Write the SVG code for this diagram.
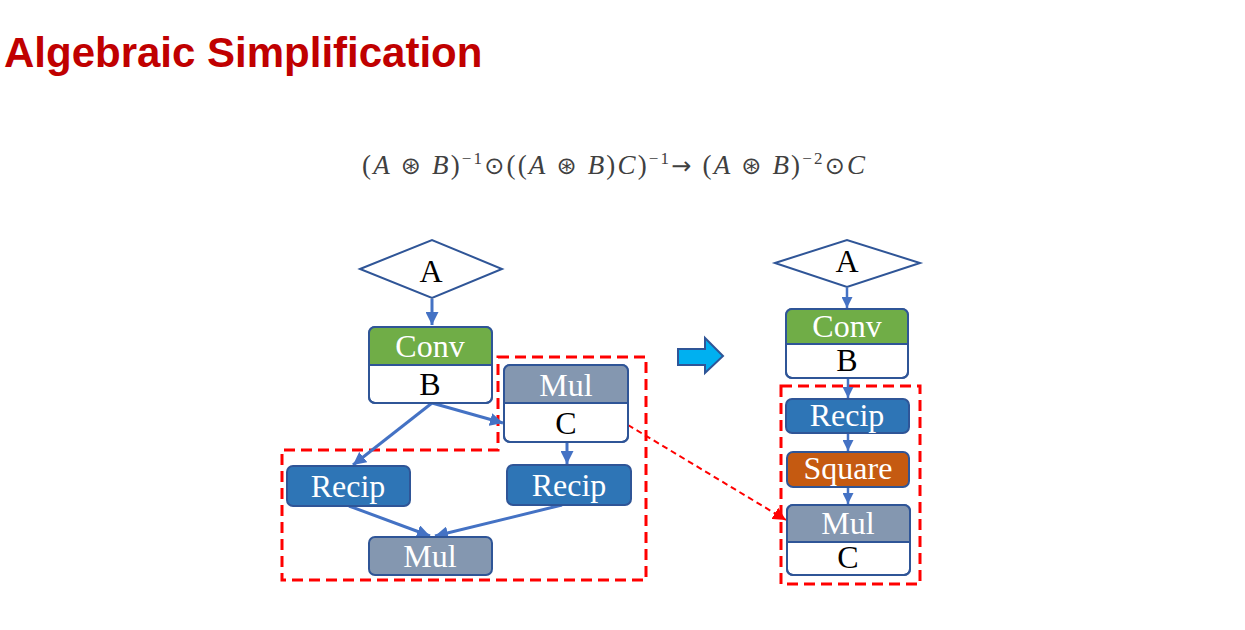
<svg xmlns="http://www.w3.org/2000/svg" width="1245" height="630" viewBox="0 0 1245 630">
<style>
.title{font-family:"Liberation Sans",Arial,sans-serif;font-weight:bold;font-size:42px;fill:#C00000}
.eq{font-family:"Liberation Serif","DejaVu Serif",serif;font-size:27px;fill:#404040}
.it{font-style:italic}
.op{font-family:"DejaVu Sans",sans-serif;font-size:24px}
.lbl{font-family:"Liberation Serif","Times New Roman",serif;font-size:32px;text-anchor:middle}
.w{fill:#fff}
.k{fill:#000}
.box{fill:none;stroke:#2F5597;stroke-width:2}
.bw{fill:#fff;stroke:#2F5597;stroke-width:2}
.edge{stroke:#4472C4;stroke-width:3;fill:none}
.edge2{stroke:#4472C4;stroke-width:2.5;fill:none}
.grp{fill:none;stroke:#FF0000;stroke-width:3;stroke-dasharray:11 6}
</style>
<defs>
<marker id="ah" viewBox="0 0 10 10" refX="10" refY="5" markerUnits="userSpaceOnUse" markerWidth="13" markerHeight="13" orient="auto">
<path d="M0,0 L10,5 L0,10 Z" fill="#4472C4"/>
</marker>
<marker id="ah2" viewBox="0 0 10 10" refX="10" refY="5" markerUnits="userSpaceOnUse" markerWidth="11" markerHeight="11" orient="auto">
<path d="M0,0 L10,5 L0,10 Z" fill="#4472C4"/>
</marker>
<marker id="ahr" viewBox="0 0 10 10" refX="10" refY="5" markerUnits="userSpaceOnUse" markerWidth="13" markerHeight="13" orient="auto">
<path d="M0,0 L10,5 L0,10 Z" fill="#FF0000"/>
</marker>
</defs>

<text class="title" x="4" y="67">Algebraic Simplification</text>

<text class="eq" x="362" y="174" textLength="503" lengthAdjust="spacing">(<tspan class="it">A</tspan> <tspan class="op">⊛</tspan> <tspan class="it">B</tspan>)<tspan dy="-10" font-size="17">−1</tspan><tspan dy="10" class="op">⊙</tspan>((<tspan class="it">A</tspan> <tspan class="op">⊛</tspan> <tspan class="it">B</tspan>)<tspan class="it">C</tspan>)<tspan dy="-10" font-size="17">−1</tspan><tspan dy="10" class="op">→</tspan> (<tspan class="it">A</tspan> <tspan class="op">⊛</tspan> <tspan class="it">B</tspan>)<tspan dy="-10" font-size="17">−2</tspan><tspan dy="10" class="op">⊙</tspan><tspan class="it">C</tspan></text>

<!-- group outlines -->
<g id="groups">
<polygon class="grp" points="498,357 646,357 646,580 282,580 282,450 498,450"/>
<rect class="grp" x="781" y="386" width="139" height="198"/>
</g>

<!-- connectors -->
<g id="connectors">
<line class="edge" x1="432" y1="299" x2="432" y2="325" marker-end="url(#ah)"/>
<line class="edge" x1="432" y1="403" x2="353" y2="465" marker-end="url(#ah)"/>
<line class="edge" x1="432" y1="403" x2="503" y2="423" marker-end="url(#ah)"/>
<line class="edge" x1="567" y1="442" x2="567" y2="464" marker-end="url(#ah)"/>
<line class="edge" x1="349" y1="506" x2="430" y2="536" marker-end="url(#ah)"/>
<line class="edge" x1="562" y1="505" x2="435" y2="536" marker-end="url(#ah)"/>
<line class="edge2" x1="847" y1="288" x2="847" y2="308" marker-end="url(#ah2)"/>
<line class="edge2" x1="848" y1="378" x2="848" y2="398" marker-end="url(#ah2)"/>
<line class="edge2" x1="848" y1="433" x2="848" y2="451" marker-end="url(#ah2)"/>
<line class="edge2" x1="848" y1="487" x2="848" y2="504" marker-end="url(#ah2)"/>
<line x1="628" y1="425" x2="786" y2="520" stroke="#FF0000" stroke-width="2" stroke-dasharray="6 4" marker-end="url(#ahr)"/>
<polygon points="678,349 705,349 705,338 723,356 705,373 705,365 678,365" fill="#00B0F0" stroke="#2F5597" stroke-width="2"/>
</g>

<!-- left graph -->
<g id="L_A">
<polygon points="360,269 432,240 502,269 432,298" fill="#fff" stroke="#2F5597" stroke-width="2"/>
<text class="lbl k" x="431" y="282">A</text>
</g>
<g id="L_Conv">
<rect class="bw" x="369" y="327" width="123" height="76" rx="6"/>
<path d="M369,365 V333 Q369,327 375,327 H486 Q492,327 492,333 V365 Z" fill="#70AD47"/>
<line x1="369" y1="365" x2="492" y2="365" stroke="#2F5597" stroke-width="2"/>
<rect class="box" x="369" y="327" width="123" height="76" rx="6"/>
<text class="lbl w" x="430" y="357">Conv</text>
<text class="lbl k" x="430" y="395">B</text>
</g>
<g id="L_MulC">
<rect class="bw" x="504" y="365" width="124" height="77" rx="6"/>
<path d="M504,403 V371 Q504,365 510,365 H622 Q628,365 628,371 V403 Z" fill="#8497B0"/>
<line x1="504" y1="403" x2="628" y2="403" stroke="#2F5597" stroke-width="2"/>
<rect class="box" x="504" y="365" width="124" height="77" rx="6"/>
<text class="lbl w" x="566" y="396">Mul</text>
<text class="lbl k" x="566" y="434">C</text>
</g>
<g id="L_Recip1">
<rect x="287" y="466" width="123" height="40" rx="6" fill="#2E75B6" stroke="#2F5597" stroke-width="2"/>
<text class="lbl w" x="348" y="497">Recip</text>
</g>
<g id="L_Recip2">
<rect x="507" y="465" width="124" height="40" rx="6" fill="#2E75B6" stroke="#2F5597" stroke-width="2"/>
<text class="lbl w" x="569" y="496">Recip</text>
</g>
<g id="L_Mul">
<rect x="369" y="537" width="123" height="38" rx="6" fill="#8497B0" stroke="#2F5597" stroke-width="2"/>
<text class="lbl w" x="430" y="567">Mul</text>
</g>

<!-- right graph -->
<g id="R_A">
<polygon points="775,263 847,240 920,263 847,287" fill="#fff" stroke="#2F5597" stroke-width="2"/>
<text class="lbl k" x="847" y="272">A</text>
</g>
<g id="R_Conv">
<rect class="bw" x="786" y="309" width="122" height="69" rx="6"/>
<path d="M786,344 V315 Q786,309 792,309 H902 Q908,309 908,315 V344 Z" fill="#70AD47"/>
<line x1="786" y1="344" x2="908" y2="344" stroke="#2F5597" stroke-width="2"/>
<rect class="box" x="786" y="309" width="122" height="69" rx="6"/>
<text class="lbl w" x="847" y="337">Conv</text>
<text class="lbl k" x="847" y="371">B</text>
</g>
<g id="R_Recip">
<rect x="786" y="399" width="123" height="34" rx="6" fill="#2E75B6" stroke="#2F5597" stroke-width="2"/>
<text class="lbl w" x="847" y="426">Recip</text>
</g>
<g id="R_Square">
<rect x="787" y="452" width="122" height="35" rx="6" fill="#C55A11" stroke="#2F5597" stroke-width="2"/>
<text class="lbl w" x="848" y="479">Square</text>
</g>
<g id="R_MulC">
<rect class="bw" x="787" y="505" width="123" height="70" rx="6"/>
<path d="M787,542 V511 Q787,505 793,505 H904 Q910,505 910,511 V542 Z" fill="#8497B0"/>
<line x1="787" y1="542" x2="910" y2="542" stroke="#2F5597" stroke-width="2"/>
<rect class="box" x="787" y="505" width="123" height="70" rx="6"/>
<text class="lbl w" x="848" y="534">Mul</text>
<text class="lbl k" x="848" y="568">C</text>
</g>
</svg>
